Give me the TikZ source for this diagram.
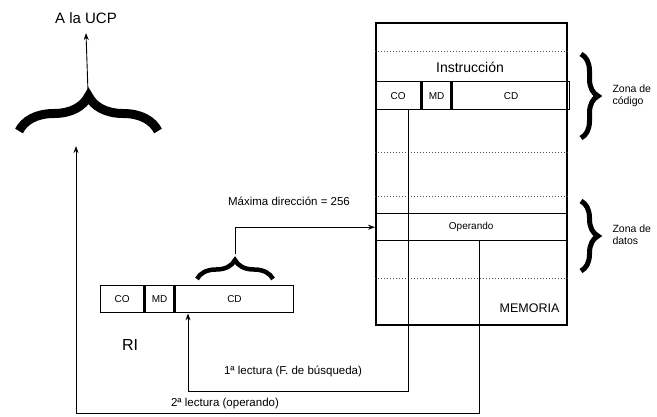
\documentclass[tikz,border=0pt]{standalone}
\usepackage{fontspec}
\setmainfont{Liberation Sans}
\usetikzlibrary{arrows.meta,positioning,calc,decorations.pathreplacing}

\begin{document}
\begin{tikzpicture}[x=1pt, y=-1pt,
    cell/.style={draw, line width=1.4pt, minimum height=27pt, inner sep=0pt, font=\fontsize{10}{12}\selectfont, anchor=north west},
    sep/.style={dotted, line width=1pt, black!70},
    lbl/.style={font=\fontsize{11.5}{13}\selectfont},
    zone/.style={font=\fontsize{10.5}{12}\selectfont, align=left, anchor=west},
    arr/.style={-{Stealth[length=7pt, width=5pt]}, line width=0.9pt},
    brc/.style={decorate, decoration={brace, amplitude=#1}}
]
\useasboundingbox (0,0) rectangle (657,416);

% memoria
\node[draw, line width=1.6pt, minimum width=191pt, minimum height=302pt, anchor=north west, inner sep=0pt] (mem) at (375,22) {};
\foreach \y in {51,152,196,278}
  \draw[sep] (mem.west |- 0,\y) -- (mem.east |- 0,\y);
\node[font=\fontsize{14}{16}\selectfont] (instr) at (470,67) {Instrucción};
\node[cell, minimum width=45pt, minimum height=28pt] (mco) at (375,81) {CO};
\node[cell, minimum width=29pt, minimum height=28pt] (mmd) at (mco.north east) {MD};
\node[cell, minimum width=117pt, minimum height=28pt] (mcd) at (mmd.north east) {CD};
\node[cell, minimum width=191pt] (oper) at (375,213) {Operando};
\node[font=\fontsize{12.5}{14}\selectfont, anchor=south east] (memlbl) at (563,316) {MEMORIA};

% zonas
\draw[brc=17pt, line width=5pt] (581,54) -- (581,138);
\draw[brc=17pt, line width=5pt] (581,201) -- (581,271);
\node[zone] (zcod) at (609,96) {Zona de\\código};
\node[zone] (zdat) at (609,235) {Zona de\\datos};

% registro de instruccion
\node[cell, minimum width=43pt] (rco) at (100,285) {CO};
\node[cell, minimum width=29pt] (rmd) at (rco.north east) {MD};
\node[cell, minimum width=118pt] (rcd) at (rmd.north east) {CD};
\node[font=\fontsize{16}{18}\selectfont] (ri) at (130,345) {RI};

% llaves
\draw[brc=35pt, line width=9pt] (19,131) -- (158,131);
\draw[brc=19pt, line width=4.5pt] (197,279) -- (273,279);
\coordinate (bigtip) at (88,92);
\coordinate (bigbot) at (76,146);
\coordinate (smalltip) at (235,254);

\node[font=\fontsize{15}{17}\selectfont] (ucp) at (86,18) {A la UCP};
\draw[arr] (bigtip) -- ([yshift=-6pt]ucp.south);

\node[lbl] (maxlbl) at (289,201) {Máxima dirección = 256};
\draw[arr] (smalltip) |- (oper.west);

% lecturas
\coordinate (l1) at (188,391);
\coordinate (l2) at (76,413);
\draw[arr] ([xshift=-13pt]mco.south east) |- (l1) -- (l1 |- rcd.south);
\node[lbl] (lec1) at (293,371) {1ª lectura (F. de búsqueda)};
\draw[arr] ([xshift=8pt]oper.south) |- (l2) -- (bigbot);
\node[lbl] (lec2) at (225,404) {2ª lectura (operando)};
\end{tikzpicture}
\end{document}
